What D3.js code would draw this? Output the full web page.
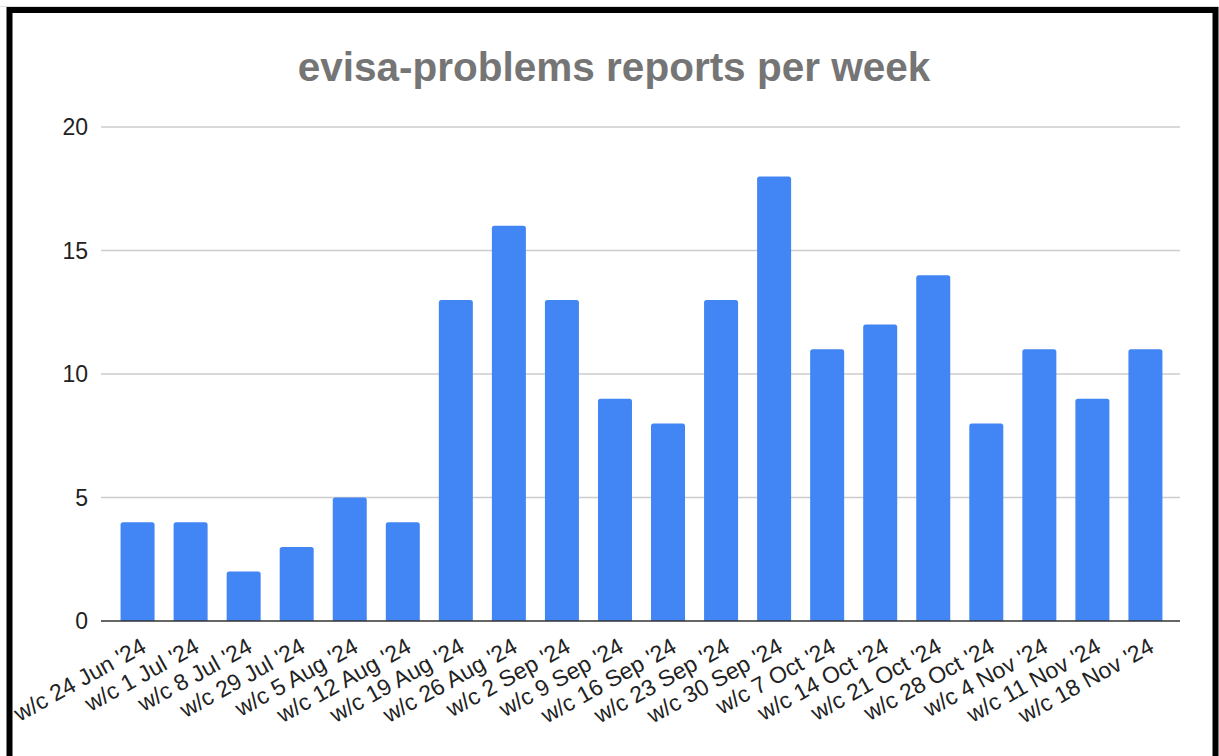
<!DOCTYPE html>
<html><head><meta charset="utf-8">
<script src="https://cdnjs.cloudflare.com/ajax/libs/d3/7.8.5/d3.min.js"></script>
<style>html,body{margin:0;padding:0;background:#fff;}svg{display:block;}</style>
</head><body>
<script>
const title = "evisa-problems reports per week";
const categories = ["w/c 24 Jun '24","w/c 1 Jul '24","w/c 8 Jul '24","w/c 29 Jul '24","w/c 5 Aug '24","w/c 12 Aug '24","w/c 19 Aug '24","w/c 26 Aug '24","w/c 2 Sep '24","w/c 9 Sep '24","w/c 16 Sep '24","w/c 23 Sep '24","w/c 30 Sep '24","w/c 7 Oct '24","w/c 14 Oct '24","w/c 21 Oct '24","w/c 28 Oct '24","w/c 4 Nov '24","w/c 11 Nov '24","w/c 18 Nov '24"];
const values = [4,4,2,3,5,4,13,16,13,9,8,13,18,11,12,14,8,11,9,11];
const yTicks = [0,5,10,15,20];

(function () {
const W = 1219, H = 756;
const pLeft = 101, pRight = 1180, pTop = 127, pBottom = 621;
const svg = d3.select("body").append("svg").attr("width", W).attr("height", H);
svg.append("rect").attr("width", W).attr("height", H).attr("fill", "#fff");

const x = d3.scaleBand().domain(categories).range([pLeft + 1, pRight + 1]).paddingInner(0.359).paddingOuter(0.35);
const y = d3.scaleLinear().domain([0, 20]).range([pBottom, pTop]);

// gridlines
svg.append("g").selectAll("line").data(yTicks.filter(d => d !== 0)).join("line")
  .attr("x1", pLeft).attr("x2", pRight)
  .attr("y1", d => y(d)).attr("y2", d => y(d))
  .attr("stroke", "#cccccc").attr("stroke-width", 1.3);

// y labels
svg.append("g").selectAll("text").data(yTicks).join("text")
  .attr("x", 88).attr("y", d => y(d)).attr("dy", "0.36em")
  .attr("text-anchor", "end")
  .attr("font-family", "Liberation Sans, Arial, sans-serif")
  .attr("font-size", 23).attr("fill", "#222")
  .text(d => d);

// bars (rounded top corners)
const r = 2.5;
svg.append("g").selectAll("path").data(values).join("path")
  .attr("fill", "#4285f4")
  .attr("d", (d, i) => {
    const x0 = x(categories[i]), w = x.bandwidth(), y0 = y(d), yb = y(0);
    return `M${x0},${yb}V${y0 + r}Q${x0},${y0} ${x0 + r},${y0}H${x0 + w - r}Q${x0 + w},${y0} ${x0 + w},${y0 + r}V${yb}Z`;
  });

// baseline
svg.append("line").attr("x1", pLeft).attr("x2", pRight).attr("y1", y(0)).attr("y2", y(0))
  .attr("stroke", "#333").attr("stroke-width", 1.6);

// x labels
svg.append("g").selectAll("text").data(categories).join("text")
  .attr("transform", d => `translate(${x(d) + x.bandwidth() / 2 + 10},${pBottom + 30}) rotate(-29)`)
  .attr("text-anchor", "end")
  .attr("font-family", "Liberation Sans, Arial, sans-serif")
  .attr("font-size", 23).attr("fill", "#222")
  .text(d => d);

// title
svg.append("text").attr("x", 614).attr("y", 81).attr("text-anchor", "middle")
  .attr("font-family", "Liberation Sans, Arial, sans-serif")
  .attr("font-weight", "bold").attr("font-size", 40.5).attr("fill", "#757575")
  .text(title);

// frame
svg.append("line").attr("x1", 0).attr("x2", W).attr("y1", 6.5).attr("y2", 6.5).attr("stroke", "#e0e0e0").attr("stroke-width", 1);
svg.append("rect").attr("x", 9.5).attr("y", 10).attr("width", 1206).attr("height", 820)
  .attr("fill", "none").attr("stroke", "#000").attr("stroke-width", 6);
})();
</script>
</body></html>
